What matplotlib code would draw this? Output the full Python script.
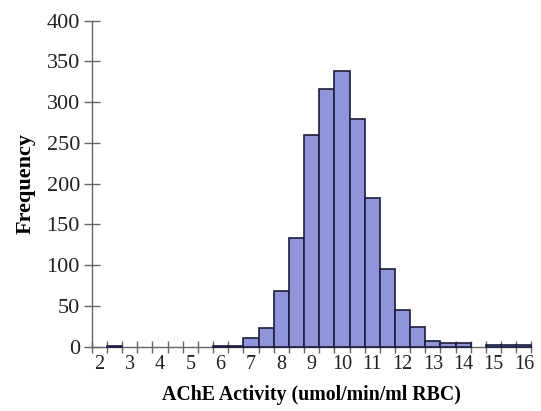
import numpy as np
import matplotlib.pyplot as plt

plt.rcParams['font.family'] = ['Liberation Serif', 'DejaVu Serif']

# bin centres (umol/min/ml RBC), bin width 0.5
bin_centres = [2.0, 2.5, 3.0, 3.5, 4.0, 4.5, 5.0, 5.5, 6.0, 6.5, 7.0, 7.5, 8.0, 8.5,
               9.0, 9.5, 10.0, 10.5, 11.0, 11.5, 12.0, 12.5, 13.0, 13.5, 14.0,
               14.5, 15.0, 15.5, 16.0]
counts = [0, 1, 0, 0, 0, 0, 0, 0, 1, 1, 11, 23, 68, 133,
          260, 316, 338, 279, 182, 95, 45, 24, 7, 4, 4,
          0, 2, 2, 2]
x_labels = list(range(2, 17))
y_ticks = list(range(0, 401, 50))

fig = plt.figure(figsize=(5.41, 4.11), dpi=100)
ax = fig.add_axes([0.1695, 0.1569, 0.8129, 0.7927])

# skip empty bins so no outline is drawn on the axis
xs = [c for c, n in zip(bin_centres, counts) if n > 0]
hs = [n for n in counts if n > 0]
ax.bar(xs, hs, width=0.5, color='#8f95d8', edgecolor='#1c1c3c', linewidth=1.2,
       zorder=3, clip_on=False)

ax.set_xlim(1.75, 16.25)
ax.set_ylim(0, 400)

axis_col = '#666666'
for s in ['top', 'right']:
    ax.spines[s].set_visible(False)
for s in ['left', 'bottom']:
    ax.spines[s].set_color(axis_col)
    ax.spines[s].set_linewidth(1.0)

# tick marks at bin edges, labels at integer bin centres
ax.set_xticks(np.arange(1.75, 16.3, 0.5))
ax.set_xticklabels([])
ax.set_xticks(x_labels, minor=True)
ax.set_xticklabels([str(v) for v in x_labels], minor=True)
ax.tick_params(axis='x', which='major', direction='inout', length=9, width=1.0,
               color=axis_col)
ax.tick_params(axis='x', which='minor', length=0, labelsize=14.5, pad=6,
               labelcolor='#222222')

ax.set_yticks(y_ticks)
ax.tick_params(axis='y', direction='inout', length=11, width=1.0, color=axis_col,
               labelsize=16, pad=3, labelcolor='#222222')

ax.set_xlabel('AChE Activity (umol/min/ml RBC)', fontsize=14.3, fontweight='bold',
              labelpad=8)
ax.set_ylabel('Frequency', fontsize=16, fontweight='bold', labelpad=8)

fig.savefig('out.png', dpi=100)
